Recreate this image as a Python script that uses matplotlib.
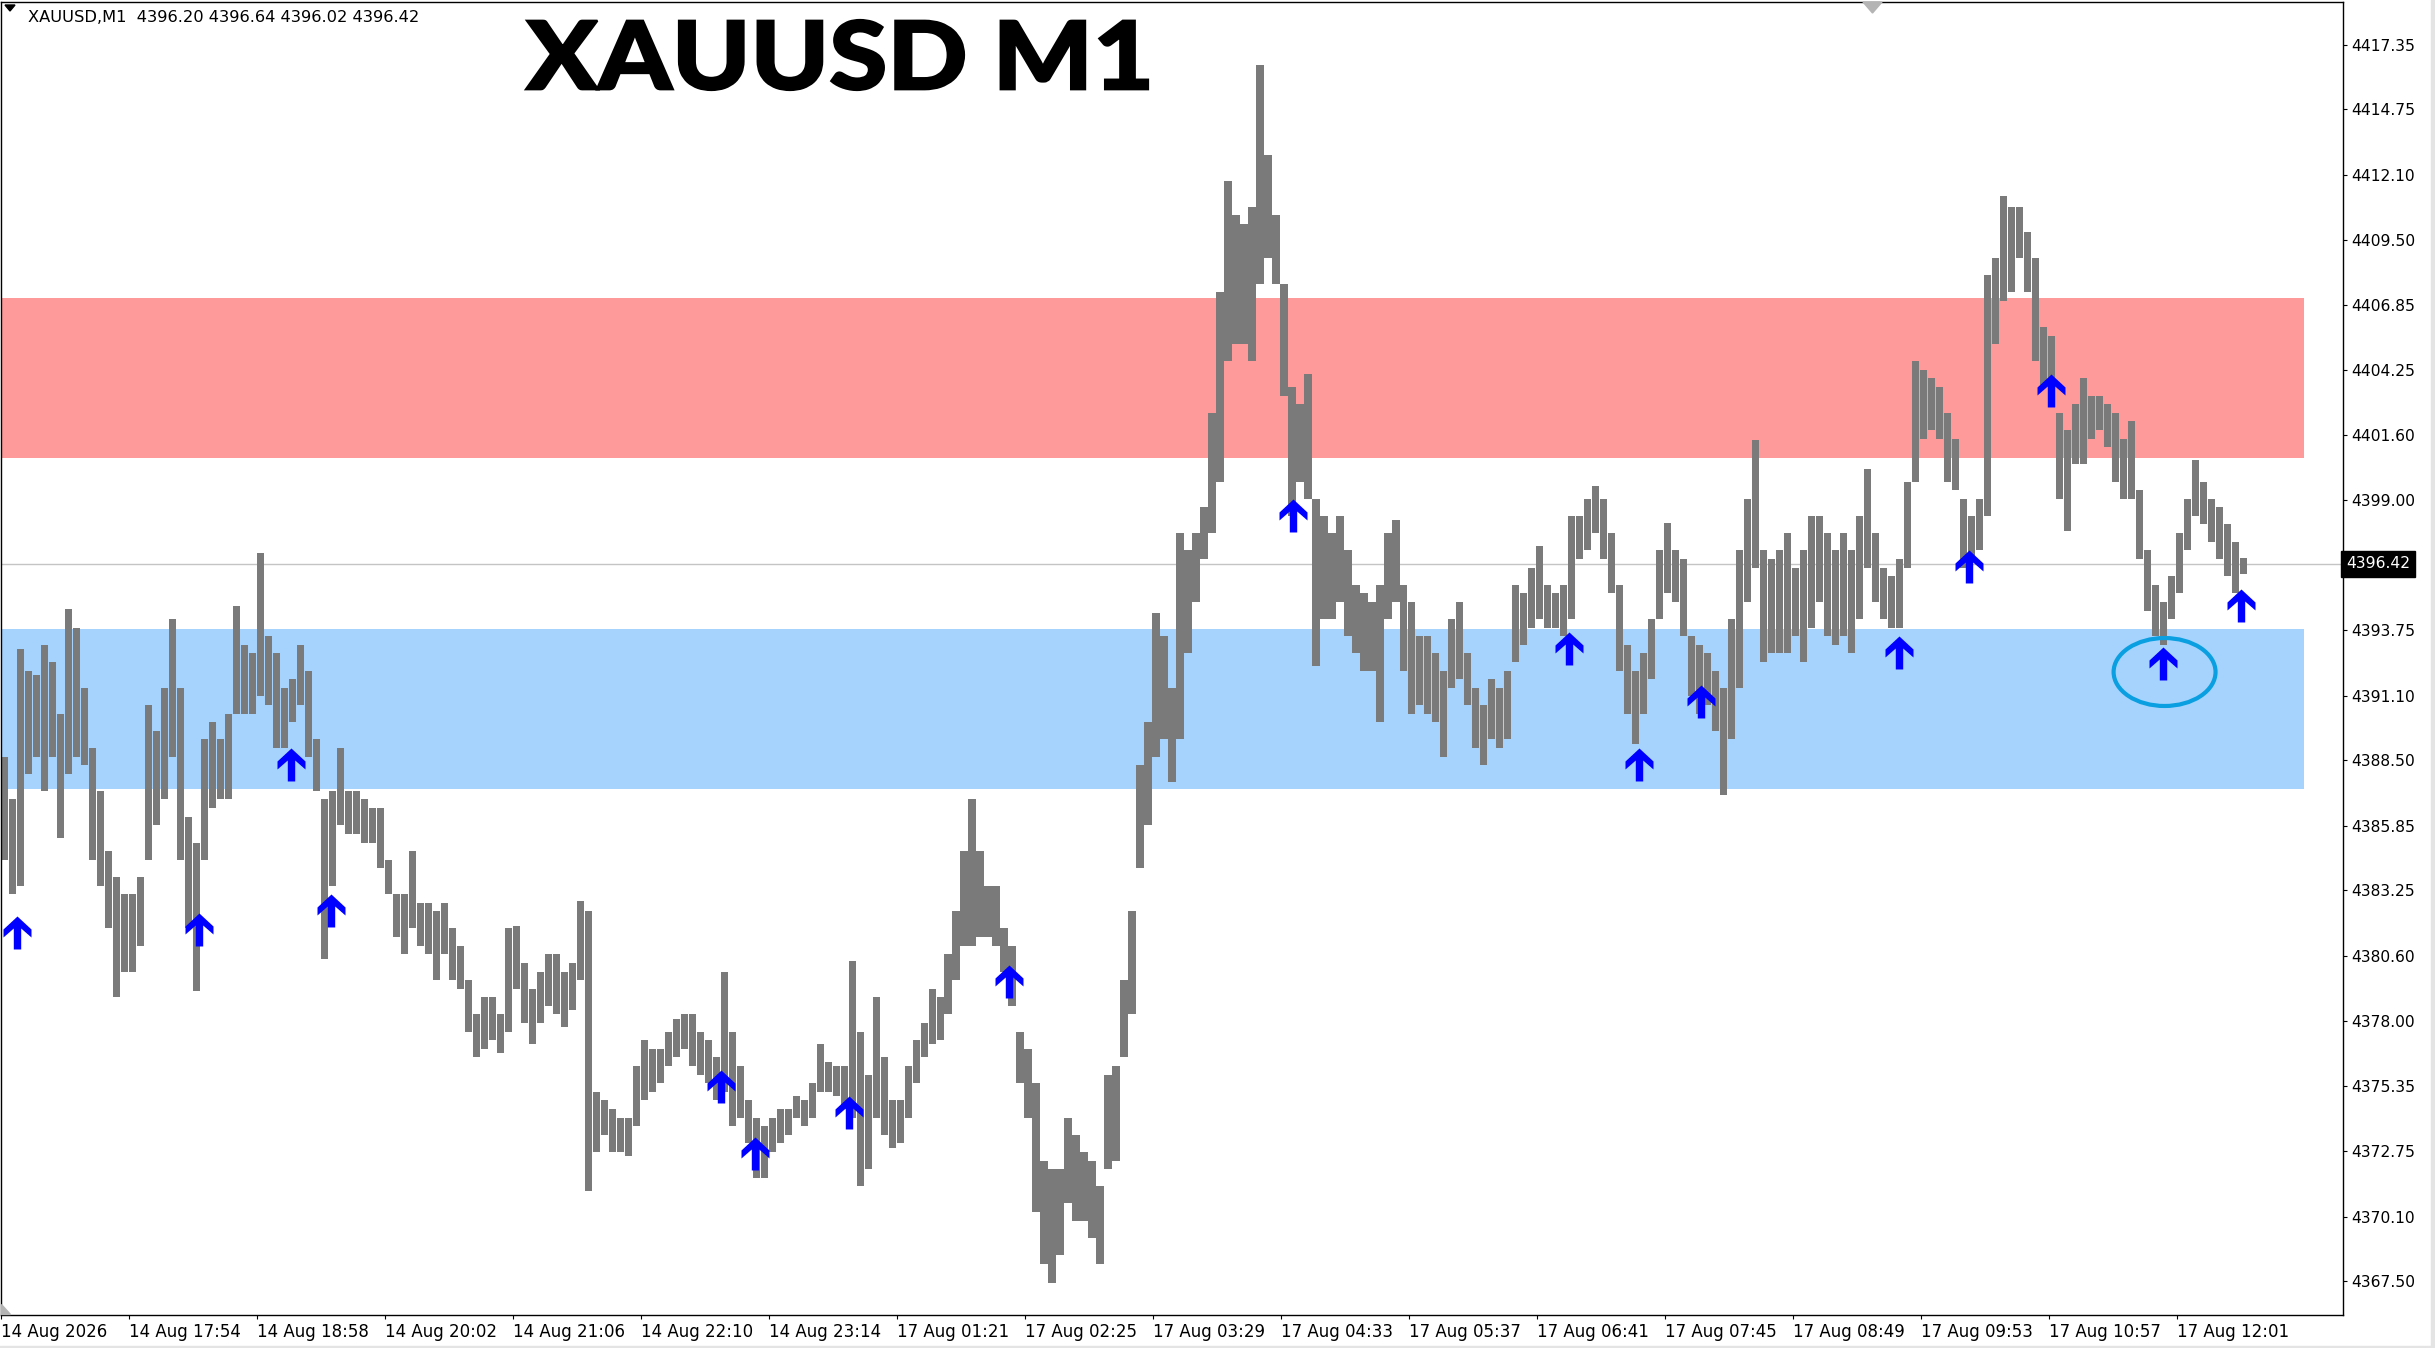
import matplotlib
matplotlib.use('Agg')
import matplotlib.pyplot as plt
from matplotlib.path import Path
from matplotlib.patches import Ellipse, Polygon, Rectangle, PathPatch
from matplotlib.textpath import TextPath
from matplotlib.font_manager import FontProperties
from matplotlib.transforms import Affine2D
import numpy as np

# XAUUSD M1 in groups of 4 one-minute bars
seg_high = [
    4388.65, 4386.92, 4392.98, 4392.12, 4391.94, 4393.15, 4392.46, 4390.38, 4394.61, 4393.85,
    4391.42, 4389.00, 4387.26, 4384.84, 4383.80, 4383.10, 4383.10, 4383.80, 4390.73, 4389.69,
    4391.42, 4394.19, 4391.42, 4386.22, 4385.18, 4389.34, 4390.04, 4389.34, 4390.38, 4394.71,
    4393.15, 4392.81, 4396.86, 4393.50, 4392.81, 4391.42, 4391.77, 4393.15, 4392.12, 4389.34,
    4386.92, 4387.26, 4389.00, 4387.26, 4387.26, 4386.92, 4386.57, 4386.57, 4384.49, 4383.10,
    4383.10, 4384.84, 4382.76, 4382.76, 4382.41, 4382.76, 4381.72, 4381.02, 4379.64, 4378.25,
    4378.94, 4378.94, 4378.25, 4381.72, 4381.82, 4380.33, 4379.29, 4379.98, 4380.68, 4380.68,
    4379.98, 4380.33, 4382.83, 4382.41, 4375.13, 4374.79, 4374.44, 4374.09, 4374.09, 4376.17,
    4377.21, 4376.86, 4376.86, 4377.56, 4378.08, 4378.25, 4378.25, 4377.56, 4377.21, 4376.52,
    4379.98, 4377.56, 4376.17, 4374.79, 4374.09, 4373.75, 4374.09, 4374.44, 4374.44, 4374.96,
    4374.79, 4375.48, 4377.04, 4376.34, 4376.17, 4376.17, 4380.40, 4377.56, 4375.82, 4378.94,
    4376.52, 4374.79, 4374.79, 4376.17, 4377.21, 4377.90, 4379.29, 4378.94, 4380.68, 4382.41,
    4384.84, 4386.92, 4384.84, 4383.45, 4383.45, 4381.72, 4381.02, 4377.56, 4376.86, 4375.48,
    4372.36, 4372.01, 4372.01, 4374.09, 4373.40, 4372.71, 4372.36, 4371.32, 4375.82, 4376.17,
    4379.64, 4382.41, 4388.30, 4390.04, 4394.44, 4393.50, 4391.42, 4397.66, 4396.97, 4397.66,
    4398.70, 4402.51, 4407.37, 4411.87, 4410.48, 4410.14, 4410.83, 4416.55, 4412.91, 4410.48,
    4407.71, 4403.55, 4402.86, 4404.07, 4399.05, 4398.35, 4397.66, 4398.35, 4396.97, 4395.58,
    4395.23, 4394.89, 4395.58, 4397.66, 4398.18, 4395.58, 4394.89, 4393.50, 4393.50, 4392.81,
    4392.12, 4394.19, 4394.89, 4392.81, 4391.42, 4390.73, 4391.77, 4391.42, 4392.12, 4395.58,
    4395.23, 4396.27, 4397.14, 4395.58, 4395.23, 4395.58, 4398.35, 4398.35, 4399.05, 4399.57,
    4399.05, 4397.66, 4395.58, 4393.15, 4392.12, 4392.81, 4394.19, 4396.97, 4398.08, 4396.97,
    4396.62, 4393.50, 4393.15, 4392.81, 4392.12, 4391.42, 4394.19, 4396.97, 4399.05, 4401.40,
    4396.97, 4396.62, 4396.97, 4397.66, 4396.27, 4396.97, 4398.35, 4398.35, 4397.66, 4396.97,
    4397.66, 4396.97, 4398.35, 4400.26, 4397.66, 4396.27, 4395.93, 4396.62, 4399.74, 4404.59,
    4404.25, 4403.90, 4403.55, 4402.51, 4401.47, 4399.05, 4398.35, 4399.05, 4408.06, 4408.75,
    4411.25, 4410.83, 4410.83, 4409.79, 4408.75, 4405.98, 4405.63, 4402.51, 4401.82, 4402.86,
    4403.90, 4403.21, 4403.21, 4402.86, 4402.51, 4401.47, 4402.17, 4399.39, 4396.97, 4395.58,
    4394.89, 4395.93, 4397.66, 4399.05, 4400.61, 4399.74, 4399.05, 4398.70, 4398.01, 4397.31,
    4396.64,
]
seg_low = [
    4384.49, 4383.10, 4383.45, 4387.96, 4388.65, 4387.26, 4388.65, 4385.36, 4387.96, 4388.65,
    4388.30, 4384.49, 4383.45, 4381.72, 4378.94, 4379.98, 4379.98, 4381.02, 4384.49, 4385.88,
    4386.92, 4388.65, 4384.49, 4381.72, 4379.19, 4384.49, 4386.57, 4386.92, 4386.92, 4390.38,
    4390.38, 4390.38, 4391.08, 4390.73, 4389.00, 4389.00, 4390.04, 4390.73, 4388.65, 4387.26,
    4380.50, 4383.45, 4385.88, 4385.53, 4385.53, 4385.18, 4385.18, 4384.14, 4383.10, 4381.37,
    4380.68, 4381.72, 4381.02, 4380.68, 4379.64, 4380.68, 4379.64, 4379.29, 4377.56, 4376.52,
    4376.86, 4377.21, 4376.69, 4377.56, 4379.29, 4377.90, 4377.04, 4377.90, 4378.60, 4378.25,
    4377.73, 4378.42, 4379.64, 4371.15, 4372.71, 4373.40, 4372.71, 4372.71, 4372.53, 4373.75,
    4374.79, 4375.13, 4375.48, 4376.17, 4376.52, 4376.86, 4376.17, 4375.82, 4375.48, 4374.79,
    4375.13, 4373.75, 4374.09, 4373.05, 4371.67, 4371.67, 4372.71, 4373.05, 4373.40, 4374.09,
    4373.75, 4374.09, 4375.13, 4375.13, 4374.96, 4374.44, 4374.09, 4371.32, 4372.01, 4374.09,
    4373.40, 4372.88, 4373.05, 4374.09, 4375.48, 4376.52, 4377.04, 4377.21, 4378.25, 4379.64,
    4381.02, 4381.02, 4381.37, 4381.37, 4381.02, 4379.98, 4378.60, 4375.48, 4374.09, 4370.28,
    4368.20, 4367.44, 4368.55, 4370.63, 4369.93, 4369.93, 4369.24, 4368.20, 4372.01, 4372.36,
    4376.52, 4378.25, 4384.14, 4385.88, 4388.65, 4389.34, 4387.61, 4389.34, 4392.81, 4394.89,
    4396.62, 4397.66, 4399.74, 4404.59, 4405.29, 4405.29, 4404.59, 4407.71, 4408.75, 4407.71,
    4403.21, 4398.35, 4399.74, 4399.05, 4392.29, 4394.19, 4394.19, 4394.89, 4393.50, 4392.81,
    4392.12, 4392.12, 4390.04, 4394.19, 4394.89, 4392.12, 4390.38, 4390.73, 4390.38, 4390.04,
    4388.65, 4391.42, 4391.77, 4390.73, 4389.00, 4388.30, 4389.34, 4389.00, 4389.34, 4392.46,
    4393.15, 4393.85, 4394.19, 4393.85, 4393.85, 4393.50, 4394.19, 4396.62, 4396.97, 4397.66,
    4396.62, 4395.23, 4392.12, 4390.38, 4389.17, 4390.38, 4391.77, 4394.19, 4395.23, 4394.89,
    4393.50, 4391.08, 4390.38, 4390.73, 4389.69, 4387.09, 4389.34, 4391.42, 4394.89, 4396.27,
    4392.46, 4392.81, 4392.81, 4392.81, 4393.50, 4392.46, 4393.85, 4394.89, 4393.50, 4393.15,
    4393.50, 4392.81, 4394.19, 4396.27, 4394.89, 4394.19, 4393.85, 4393.85, 4396.27, 4399.74,
    4401.47, 4401.82, 4401.47, 4399.74, 4399.39, 4396.27, 4396.62, 4396.97, 4398.35, 4405.29,
    4407.02, 4407.37, 4408.75, 4407.37, 4404.59, 4403.55, 4402.86, 4399.05, 4397.73, 4400.43,
    4400.43, 4401.47, 4401.82, 4401.13, 4399.74, 4399.05, 4399.05, 4396.62, 4394.54, 4393.50,
    4393.15, 4394.19, 4395.23, 4396.97, 4398.35, 4398.01, 4397.31, 4396.62, 4395.93, 4395.23,
    4396.02,
]

time_labels = ['14 Aug 2026', '14 Aug 17:54', '14 Aug 18:58', '14 Aug 20:02', '14 Aug 21:06',
               '14 Aug 22:10', '14 Aug 23:14', '17 Aug 01:21', '17 Aug 02:25', '17 Aug 03:29',
               '17 Aug 04:33', '17 Aug 05:37', '17 Aug 06:41', '17 Aug 07:45', '17 Aug 08:49',
               '17 Aug 09:53', '17 Aug 10:57', '17 Aug 12:01']
price_ticks = [4417.35, 4414.75, 4412.10, 4409.50, 4406.85, 4404.25, 4401.60, 4399.00,
               4393.75, 4391.10, 4388.50, 4385.85, 4383.25, 4380.60, 4378.00, 4375.35,
               4372.75, 4370.10, 4367.50]

# buy arrows: bar index and arrow tip price
arrow_bar = [8, 99, 145, 165, 360, 377, 424, 504, 646, 784, 819, 850, 949, 984, 1025, 1081, 1120]
arrow_price = [4382.24, 4382.34, 4388.99, 4383.10, 4376.00, 4373.29, 4374.96, 4380.26, 4399.05,
               4393.67, 4388.99, 4391.52, 4393.50, 4396.97, 4404.07, 4393.05, 4395.41]

supply_zone = (4400.69, 4407.14)
demand_zone = (4387.35, 4393.80)
zone_end = 1151.5
last_price = 4396.42
ohlc_text = 'XAUUSD,M1  4396.20 4396.64 4396.02 4396.42'

W, H = 2435, 1348
fig = plt.figure(figsize=(W / 100, H / 100), dpi=100)
ax = fig.add_axes([0.5 / W, 33 / H, 2342 / W, 1313 / H])
ax.set_xlim(-0.5, 1171)
ax.set_ylim(4366.13, 4419.08)

# zones
ax.add_patch(Rectangle((-0.5, supply_zone[0]), zone_end + 0.5, supply_zone[1] - supply_zone[0],
                       color='#ff9a9a', lw=0, zorder=1))
ax.add_patch(Rectangle((-0.5, demand_zone[0]), zone_end + 0.5, demand_zone[1] - demand_zone[0],
                       color='#a6d3fe', lw=0, zorder=1))
ax.axhline(last_price, color='#c4c4c4', lw=1, zorder=1.5)

# price bars
hi = np.array(seg_high)
lo = np.array(seg_low)
xs = np.arange(len(hi)) * 4 + 1.5
ax.bar(xs, hi - lo, bottom=lo, width=3.6, color='#7a7a7a', linewidth=0, zorder=2)

# arrow marker, tip at origin
arrow_verts = [(0, 0), (14, -13), (14, -21), (3.7, -12), (3.7, -33), (-3.7, -33),
               (-3.7, -12), (-14, -21), (-14, -13), (0, 0)]
arrow_codes = [Path.MOVETO] + [Path.LINETO] * 8 + [Path.CLOSEPOLY]
arrow_marker = Path(arrow_verts, arrow_codes)
ax.plot(arrow_bar, arrow_price, ls='none', marker=arrow_marker, markersize=47.5,
        color='#0000ff', mew=0, zorder=4)

ax.add_patch(Ellipse((1082, 4392.06), 51, 2.74, fill=False, ec='#0a9fe0', lw=3, zorder=5))

# axes look
for s in ax.spines.values():
    s.set_color('black')
    s.set_linewidth(1)
ax.yaxis.tick_right()
ax.set_yticks(price_ticks)
ax.set_yticklabels(['%.2f' % v for v in price_ticks])
ax.set_xticks(np.arange(len(time_labels)) * 64)
ax.set_xticklabels(time_labels, ha='left')
ax.tick_params(axis='y', direction='out', length=3, width=0.8, pad=3, labelsize=11.2)
ax.tick_params(axis='x', direction='out', length=3, width=0.8, pad=3, labelsize=12)

ax.text(1.0015, last_price, '4396.42', transform=ax.get_yaxis_transform(), va='center',
        ha='left', color='white', fontsize=11.2,
        bbox=dict(boxstyle='square,pad=0.35', fc='black', ec='black'))

# header
fig.patches.append(Polygon([(5 / W, 1 - 5 / H), (15 / W, 1 - 5 / H), (10 / W, 1 - 11 / H)],
                           closed=True, transform=fig.transFigure, color='black'))
fig.text(28 / W, 1 - 17 / H, ohlc_text, va='center', ha='left', fontsize=11.7)

# big title, stretched to the box it fills in the screenshot (pixels)
fp = FontProperties(family=['Lato', 'Roboto', 'DejaVu Sans'], weight='black')
tp = TextPath((0, 0), 'XAUUSD M1', size=100, prop=fp)
ext = tp.get_extents()
title_tf = (Affine2D().translate(-ext.x0, -ext.y0)
            .scale(622 / ext.width, 70 / ext.height)
            .translate(526, H - 90))
fig.patches.append(PathPatch(title_tf.transform_path(tp), transform=None,
                             fc='black', ec='black', lw=1.6))

# small gray markers of the terminal
fig.patches.append(Polygon([(1863 / W, 1 - 2 / H), (1882 / W, 1 - 2 / H), (1872.5 / W, 1 - 13 / H)],
                           closed=True, transform=fig.transFigure, color='#b4b4b4'))
fig.patches.append(Polygon([(1 / W, 1 - 1304 / H), (1 / W, 1 - 1314 / H), (10 / W, 1 - 1314 / H)],
                           closed=True, transform=fig.transFigure, color='#b4b4b4'))
fig.patches.append(Rectangle((2431 / W, 0), 4 / W, 1, transform=fig.transFigure, color='#e4e4e4'))
fig.patches.append(Rectangle((0, 0), 1, 2 / H, transform=fig.transFigure, color='#e4e4e4'))

fig.savefig('out.png', dpi=100)
